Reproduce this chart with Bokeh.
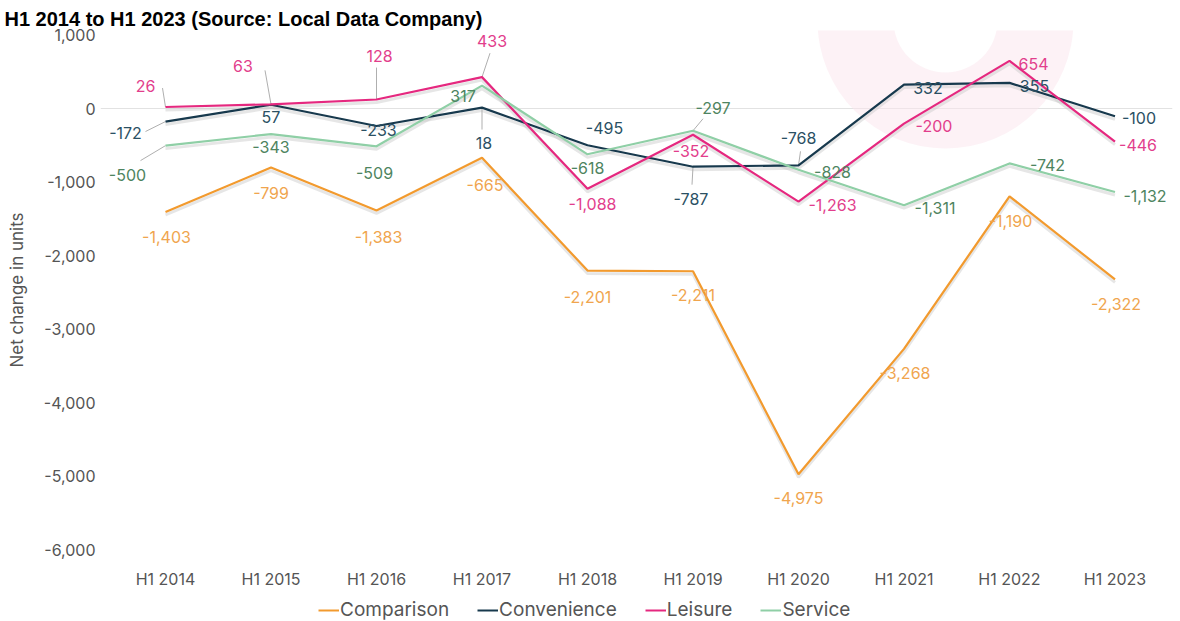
from bokeh.plotting import figure
from bokeh.layouts import column
from bokeh.models import (FixedTicker, NumeralTickFormatter, Legend, LegendItem, Title,
                          ColumnDataSource, Range1d)
from bokeh.core.properties import value
from bokeh.embed import file_html
from bokeh.resources import INLINE

# ---------------- data ----------------
periods = ["H1 2014", "H1 2015", "H1 2016", "H1 2017", "H1 2018",
           "H1 2019", "H1 2020", "H1 2021", "H1 2022", "H1 2023"]
comparison = [-1403, -799, -1383, -665, -2201, -2211, -4975, -3268, -1190, -2322]
convenience = [-172, 57, -233, 18, -495, -787, -768, 332, 355, -100]
leisure = [26, 63, 128, 433, -1088, -352, -1263, -200, 654, -446]
service = [-500, -343, -509, 317, -618, -297, -828, -1311, -742, -1132]
y_ticks = [-6000, -5000, -4000, -3000, -2000, -1000, 0, 1000]

# ---------------- style ----------------
FONT = "Inter"
W, H, LH = 1180, 591, 30
BL, BR, BT, BB = 100, 8, 30, 41
PPX = 105.5
PPY = 515 / 7000
X0 = -(165 - BL) / PPX
X1 = X0 + (W - BL - BR) / PPX
Y0 = -6000
Y1 = 1000 + (35 - BT) / PPY

series = [
    ("Comparison", comparison, "#F29A2E", "#F0A54E"),
    ("Convenience", convenience, "#17394D", "#2B5063"),
    ("Leisure", leisure, "#E5287F", "#E23E8C"),
    ("Service", service, "#8FCFA6", "#4E8460"),
]

# label offsets in pixels (screen, +y is down)
label_offsets = {
    "Comparison": [(1, 25), (0, 25), (2, 27), (3, 27), (0, 26), (0, 24), (0, 24), (1, 24), (1, 25), (1, 25)],
    "Convenience": [(-40, 11), (0, 12), (2, 4), (2, 35), (17, -17), (-2, 32), (0, -27), (24, 3), (25, 3), (24, 2)],
    "Leisure": [(-20, -21), (-28, -38), (3, -44), (10, -36), (5, 15), (-2, 16), (34, 3), (30, 2), (24, 3), (23, 3)],
    "Service": [(-38, 29), (0, 13), (-2, 27), (-19, 10), (0, 14), (20, -23), (34, 2), (31, 3), (38, 2), (30, 4)],
}
# leader lines: (series, index, end dx, end dy) in pixels
leaders = [
    ("Leisure", 0, -3, -19), ("Leisure", 1, -6, -34), ("Leisure", 2, 0, -32), ("Leisure", 3, 8, -24),
    ("Convenience", 0, -20, 10), ("Service", 0, -25, 15), ("Convenience", 3, 0, 22),
    ("Service", 5, 10, -12), ("Convenience", 5, -1, 18), ("Convenience", 6, 2, -14),
]

xs = list(range(len(periods)))

p = figure(width=W, height=H, output_backend="svg", toolbar_location=None,
           x_range=(X0, X1), y_range=(Y0, Y1),
           min_border_left=BL, min_border_right=BR, min_border_top=BT, min_border_bottom=BB)
p.outline_line_color = None
p.background_fill_color = "white"
p.border_fill_color = "white"

p.title = Title(text="H1 2014 to H1 2023 (Source: Local Data Company)",
                text_font="Liberation Sans", text_font_style="bold",
                text_font_size="20px", text_color="#000000", align="left",
                offset=-96, standoff=2)

# watermark ring (decoration)
p.annulus(x=[(945 - BL) / PPX + X0], y=[Y1 + 10 / PPY], inner_radius=52,
          outer_radius=128, inner_radius_units="screen", outer_radius_units="screen",
          fill_color="#FBE6ED", fill_alpha=0.5, line_color=None)

# axes
p.xaxis.ticker = FixedTicker(ticks=xs)
p.xaxis.major_label_overrides = {i: s for i, s in enumerate(periods)}
p.yaxis.ticker = FixedTicker(ticks=y_ticks)
p.yaxis.formatter = NumeralTickFormatter(format="0,0")
for ax in (p.xaxis[0], p.yaxis[0]):
    ax.axis_line_color = None
    ax.major_tick_line_color = None
    ax.minor_tick_line_color = None
    ax.major_tick_out = 0
    ax.major_label_text_font = FONT
    ax.major_label_text_font_size = "16px"
    ax.major_label_text_color = "#555555"
p.xaxis.major_label_standoff = 19
p.yaxis.major_label_standoff = 5
p.yaxis.axis_label = "Net change in units"
p.yaxis.axis_label_text_font = FONT
p.yaxis.axis_label_text_font_size = "17px"
p.yaxis.axis_label_text_font_style = "normal"
p.yaxis.axis_label_text_color = "#555555"
p.yaxis.axis_label_standoff = 14
p.xgrid.grid_line_color = None
p.ygrid.ticker = FixedTicker(ticks=[0])
p.ygrid.grid_line_color = "#E2E2E2"

# shadows
shadow_dy = 3 / PPY
for name, vals, col, lcol in series:
    p.line(xs, [v - shadow_dy for v in vals], line_color="#C8C8C8", line_alpha=0.45, line_width=3)

# leader lines
lx0, ly0, lx1, ly1 = [], [], [], []
lookup = {s[0]: s[1] for s in series}
for name, i, dx, dy in leaders:
    v = lookup[name][i]
    lx0.append(xs[i]); ly0.append(v)
    lx1.append(xs[i] + dx / PPX); ly1.append(v - dy / PPY)
p.segment(lx0, ly0, lx1, ly1, line_color="#AFAFAF", line_width=1)

for name, vals, col, lcol in series:
    p.line(xs, vals, line_color=col, line_width=2.2)

for name, vals, col, lcol in series:
    offs = label_offsets[name]
    src = ColumnDataSource(dict(x=xs, y=vals, t=[f"{v:,}" for v in vals],
                                dx=[o[0] for o in offs], dy=[o[1] for o in offs]))
    p.text(x="x", y="y", text="t", x_offset="dx", y_offset="dy", source=src,
           text_color=lcol, text_font=value(FONT), text_font_size="16px",
           text_align="center", text_baseline="middle")

# ---------------- legend strip ----------------
lg = figure(width=W, height=LH, output_backend="svg", toolbar_location=None,
            x_axis_type=None, y_axis_type=None, x_range=Range1d(0, 1), y_range=Range1d(0, 1),
            min_border_left=0, min_border_right=0, min_border_top=0, min_border_bottom=0)
lg.outline_line_color = None
lg.grid.visible = False
lg.background_fill_color = "white"
lg.border_fill_color = "white"
items = []
for name, vals, col, lcol in series:
    r = lg.line([5, 6], [5, 6], line_color=col, line_width=2)
    items.append(LegendItem(label=name, renderers=[r]))
legend = Legend(items=items, orientation="horizontal", location=(218, 0),
                glyph_width=21, glyph_height=14, label_standoff=1, spacing=28, padding=0,
                margin=0, label_text_font=FONT, label_text_font_size="19px",
                label_text_color="#555555", border_line_color=None,
                background_fill_alpha=0)
lg.add_layout(legend)

open("out.html", "w").write(file_html(column(p, lg, spacing=0), INLINE))
